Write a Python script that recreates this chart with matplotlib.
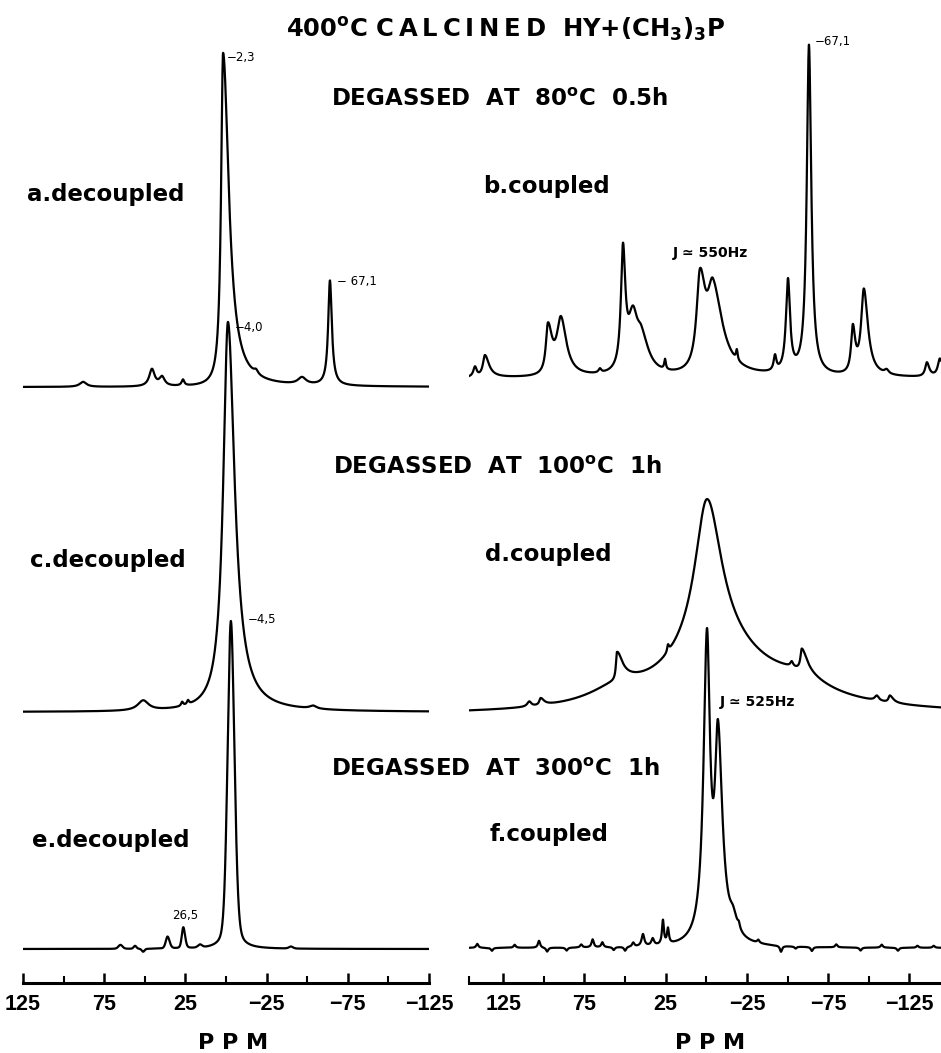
"""
31P NMR spectra of (CH3)3P on 400C calcined HY, redrawn with matplotlib.
Each trace is built from a peak list read off the printed figure.
"""
import numpy as np
import matplotlib
matplotlib.use("Agg")
import matplotlib.pyplot as plt

# ---------------------------------------------------------------- data
# peaks: (ppm, height, width on high-ppm side, width on low-ppm side)
PEAKS_A = [(1.8, 334, 3.0, 8.5), (-64.0, 105, 2.6, 2.8),
           (45.6, 17, 4.0, 4.0), (39.4, 9, 4.0, 4.0), (26.5, 6, 2.0, 2.0),
           (88.0, 5, 5.0, 5.0), (-46.8, 7, 6.0, 6.0), (-18.5, 4, 3.0, 3.0)]
PEAKS_C = [(-1.2, 390, 7.0, 10.0), (51.0, 10, 8.0, 8.0),
           (27.0, 4, 1.5, 1.5), (23.4, 4, 1.5, 1.5), (-53.6, 3, 5.0, 5.0)]
PEAKS_E = [(-3.0, 328, 4.8, 5.2), (26.3, 21, 2.2, 2.6), (36.0, 12, 2.6, 3.0),
           (65.0, 4, 3.0, 3.0), (56.0, 3, 2.0, 2.0), (51.0, -3, 2.0, 2.0),
           (16.0, 3, 3.0, 3.0), (-40.0, 2, 3.0, 3.0)]
PEAKS_B = [(142.4, 10, 2.5, 2.5), (136.3, 22, 3.0, 6.0),
           (97.5, 48, 3.0, 6.0), (89.5, 55, 6.0, 8.0), (65.5, 4, 2.0, 2.0),
           (51.3, 118, 3.0, 3.5), (45.2, 52, 7.0, 7.0), (40.0, 32, 7.0, 11.0),
           (25.4, 10, 1.2, 1.2), (3.9, 92, 5.0, 8.0), (-4.1, 80, 8.0, 14.0),
           (-18.8, 10, 1.2, 1.2), (-42.3, 15, 2.0, 2.0), (-50.3, 92, 3.0, 3.0),
           (-63.2, 330, 3.2, 3.4), (-90.2, 45, 2.5, 3.5), (-97.0, 85, 4.0, 6.0),
           (-111.0, 4, 3.0, 3.0), (-135.8, 14, 2.5, 3.5), (-143.8, 18, 3.0, 4.0)]
PEAKS_D = [(-0.4, 150, 18.0, 22.0), (-3.0, 63, 70.0, 90.0),
           (55.0, 14, 40.0, 40.0), (-58.0, 14, 40.0, 40.0),
           (55.0, 28, 1.5, 8.0), (23.6, 7, 1.2, 1.5),
           (-52.6, 5, 2.0, 2.0), (-58.8, 22, 2.0, 8.0),
           (109.0, 5, 3.0, 3.0), (102.0, 7, 2.0, 5.0),
           (-105.0, 5, 3.0, 3.0), (-113.0, 7, 2.0, 5.0)]
PEAKS_F = [(-0.4, 300, 5.0, 4.5), (-7.2, 198, 4.5, 6.5), (-16.5, 15, 5.0, 6.0),
           (26.7, 24, 1.4, 1.4), (23.6, 15, 1.4, 1.4),
           (39.0, 12, 2.0, 2.0), (33.0, 7, 2.0, 2.0)]
# small baseline wiggles in trace f: (ppm, height)
NOISE_F = [(141, 4), (132, -3), (118, 3), (103, 7), (98, -4), (86, -3), (77, 3),
           (70, 8), (64, 5), (57, -3), (50, -4), (45, 4), (-20, 5), (-32, 3),
           (-46, -6), (-55, -2), (-65, -4), (-80, 3), (-95, -3), (-108, 3),
           (-118, -3), (-130, 2), (-140, 2)]

LORENTZ_FRACTION = {"a": 1.0, "b": 1.0, "c": 1.0, "d": 1.0, "e": 0.3, "f": 1.0}

MAJOR_TICKS = [125, 75, 25, -25, -75, -125]
MINOR_TICKS = [100, 50, 0, -50, -100]
TICK_LABELS = ["125", "75", "25", "\u221225", "\u221275", "\u2212125"]

W, H = 941, 1053


# ---------------------------------------------------------------- helpers
def trace(ppm, peaks, eta):
    y = np.zeros_like(ppm)
    for pos, h, wl, wr in peaks:
        w = np.where(ppm > pos, wl, wr)
        t = (ppm - pos) / (w / 2)
        y += h * (eta * 1 / (1 + t ** 2) + (1 - eta) * np.exp(-np.log(2) * t ** 2))
    return y


def px(x, y):
    return x / W, 1 - y / H


def column_axes(fig, x0, x1, xlim):
    ax = fig.add_axes([x0 / W, 1 - 983 / H, (x1 - x0) / W, 983 / H])
    ax.set_xlim(*xlim)
    ax.set_ylim(0, 983)
    for s in ("top", "left", "right"):
        ax.spines[s].set_visible(False)
    ax.spines["bottom"].set_linewidth(2.2)
    ax.set_yticks([])
    ax.set_xticks(MAJOR_TICKS)
    ax.set_xticks(MINOR_TICKS, minor=True)
    ax.set_xticklabels(TICK_LABELS, fontsize=15.5, fontweight="bold",
                       family=["Liberation Sans", "DejaVu Sans"])
    ax.tick_params(axis="x", which="major", direction="in", length=7.5, width=1.8, pad=8)
    ax.tick_params(axis="x", which="minor", direction="in", length=5, width=1.5)
    ax.patch.set_visible(False)
    return ax


# ---------------------------------------------------------------- figure
fig = plt.figure(figsize=(W / 100, H / 100), dpi=100)

left = column_axes(fig, 23, 429, (125, -125))
right = column_axes(fig, 469, 941, (146.1, -144.5))
right.set_xticks(MINOR_TICKS + [146.1], minor=True)

ppm_l = np.linspace(125, -124.4, 3000)
ppm_r = np.linspace(146.1, -144.5, 3500)

lw = 1.6
left.plot(ppm_l, 596 + trace(ppm_l, PEAKS_A, LORENTZ_FRACTION["a"]), color="black", lw=lw)
left.plot(ppm_l, 271 + trace(ppm_l, PEAKS_C, LORENTZ_FRACTION["c"]), color="black", lw=lw)
left.plot(ppm_l, 34 + trace(ppm_l, PEAKS_E, LORENTZ_FRACTION["e"]), color="black", lw=lw)

noise_f = [(p, h, 1.6, 1.6) for p, h in NOISE_F]
right.plot(ppm_r, 605 + trace(ppm_r, PEAKS_B, LORENTZ_FRACTION["b"]), color="black", lw=lw)
right.plot(ppm_r, 268 + trace(ppm_r, PEAKS_D, LORENTZ_FRACTION["d"]), color="black", lw=lw)
right.plot(ppm_r, 35 + trace(ppm_r, PEAKS_F + noise_f, LORENTZ_FRACTION["f"]),
           color="black", lw=lw)

# ---------------------------------------------------------------- text
big = dict(fontsize=16.5, fontweight="bold", va="center")
fig.text(*px(505, 30), "400$^{\\mathbf{o}}$C C\u2009A\u2009L\u2009C\u2009I\u2009N\u2009E\u2009D  "
         "HY$\\mathbf{+}$(CH$_{\\mathbf{3}}$)$_{\\mathbf{3}}$P", ha="center",
         fontsize=17.5, fontweight="bold", va="center")
fig.text(*px(500, 100), "DEGASSED  AT  80$^{\\mathbf{o}}$C  0.5h", ha="center", **big)
fig.text(*px(497, 467), "DEGASSED  AT  100$^{\\mathbf{o}}$C  1h", ha="center", **big)
fig.text(*px(495, 770), "DEGASSED  AT  300$^{\\mathbf{o}}$C  1h", ha="center", **big)

lab = dict(fontsize=16.5, fontweight="bold", va="center", ha="left")
fig.text(*px(27, 195), "a.decoupled", **lab)
fig.text(*px(483, 187), "b.coupled", **lab)
fig.text(*px(30, 560), "c.decoupled", **lab)
fig.text(*px(485, 555), "d.coupled", **lab)
fig.text(*px(32, 840), "e.decoupled", **lab)
fig.text(*px(490, 835), "f.coupled", **lab)

small = dict(fontsize=8.5, va="center", ha="left")
fig.text(*px(227, 58), "\u22122,3", **small)
fig.text(*px(337, 282), "\u2212 67,1", **small)
fig.text(*px(235, 327), "\u22124,0", **small)
fig.text(*px(815, 42), "\u221267,1", **small)
fig.text(*px(248, 620), "\u22124,5", **small)
fig.text(*px(172, 916), "26,5", **small)
fig.text(*px(673, 253), "J \u2243 550Hz", fontsize=10, fontweight="bold", va="center", ha="left")
fig.text(*px(720, 702), "J \u2243 525Hz", fontsize=10, fontweight="bold", va="center", ha="left")

fig.text(*px(233, 1043), "P P M", fontsize=16, fontweight="bold", ha="center", va="center")
fig.text(*px(710, 1043), "P P M", fontsize=16, fontweight="bold", ha="center", va="center")

fig.savefig("out.png", dpi=100, facecolor="white")
